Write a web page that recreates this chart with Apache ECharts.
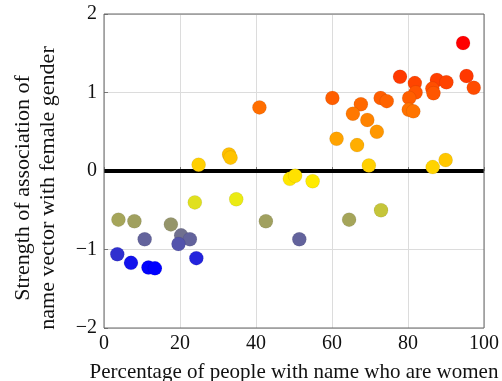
<!DOCTYPE html>
<html>
<head>
<meta charset="utf-8">
<script src="https://cdn.jsdelivr.net/npm/echarts@6/dist/echarts.min.js"></script>
<style>html,body{margin:0;padding:0;background:#fff}#c{width:502px;height:381px}</style>
</head>
<body>
<div id="c"></div>
<script>
const pctWomen = [40.9, 24.9, 32.9, 33.3, 48.9, 50.3, 94.5, 95.4, 97.3, 77.9,
  81.8, 87.6, 90.1, 86.4, 86.7, 82.0, 80.3, 80.2, 81.4, 60.1,
  67.6, 65.5, 72.8, 74.4, 69.3, 71.8, 61.2, 66.6, 69.7, 86.5,
  89.9, 54.9, 64.5, 72.9, 51.4, 23.9, 34.8, 3.8, 8.0, 17.6,
  42.6, 10.7, 20.3, 22.6, 19.6, 3.5, 7.1, 11.7, 13.4, 24.3];
const strength = [0.81, 0.08, 0.21, 0.17, -0.10, -0.06, 1.63, 1.21, 1.06, 1.20,
  1.12, 1.16, 1.13, 1.05, 0.99, 1.00, 0.93, 0.78, 0.76, 0.93,
  0.85, 0.73, 0.93, 0.89, 0.65, 0.50, 0.41, 0.33, 0.07, 0.05,
  0.14, -0.13, -0.62, -0.50, -0.87, -0.40, -0.36, -0.62, -0.64, -0.68,
  -0.64, -0.87, -0.82, -0.87, -0.93, -1.06, -1.17, -1.23, -1.24, -1.11];
const xTicks = [0, 20, 40, 60, 80, 100];
const yTicks = [-2, -1, 0, 1, 2];
const zeroLine = [[0, 0], [100, 0]];
const xTitle = 'Percentage of people with name who are women';
const yTitle = ['Strength of association of', 'name vector with female gender'];

const points = pctWomen.map((x, i) => [x, strength[i]]);
const font = 'Liberation Serif';
const chart = echarts.init(document.getElementById('c'), null, {renderer: 'canvas'});
const fmt = v => String(v).replace('-', '\u2212');
chart.setOption({
  animation: false,
  grid: {left: 104, right: 18, top: 14, bottom: 53, containLabel: false, outerBoundsMode: 'none',
    show: true, borderColor: '#666', borderWidth: 1, z: 5},
  xAxis: {
    type: 'value', min: xTicks[0], max: xTicks[xTicks.length - 1], interval: 20,
    name: xTitle, nameLocation: 'middle', nameGap: 34,
    nameTextStyle: {fontFamily: font, fontSize: 21, color: '#111'},
    axisLine: {show: false},
    axisTick: {show: true, inside: true, length: 4, lineStyle: {color: '#777'}},
    axisLabel: {fontFamily: font, fontSize: 20, color: '#111', margin: 6, formatter: fmt},
    splitLine: {show: true, lineStyle: {color: '#dcdcdc', width: 1}}
  },
  yAxis: {
    type: 'value', min: yTicks[0], max: yTicks[yTicks.length - 1], interval: 1,
    axisLine: {show: false},
    axisTick: {show: true, inside: true, length: 4, lineStyle: {color: '#777'}},
    axisLabel: {fontFamily: font, fontSize: 20, color: '#111', margin: 7, formatter: fmt},
    splitLine: {show: true, lineStyle: {color: '#dcdcdc', width: 1}}
  },
  visualMap: {
    show: false, type: 'continuous', seriesIndex: 1, dimension: 1,
    min: Math.min(...strength), max: Math.max(...strength),
    inRange: {color: ['#0000ff', '#ffff00', '#ff8000', '#ff0000']}
  },
  graphic: [{
    type: 'text', rotation: Math.PI / 2, x: 36, y: 188,
    style: {text: yTitle.join('\n'), fontFamily: font, fontSize: 22, fill: '#111',
      align: 'center', verticalAlign: 'middle', lineHeight: 25}
  }],
  series: [
    {type: 'line', data: zeroLine, symbol: 'none', lineStyle: {color: '#000', width: 4}, z: 2, silent: true},
    {type: 'scatter', data: points, symbol: 'circle', symbolSize: 14, z: 3,
      itemStyle: {opacity: 1, borderColor: 'rgba(0,0,0,0.12)', borderWidth: 0.6}}
  ]
});
</script>
</body>
</html>
